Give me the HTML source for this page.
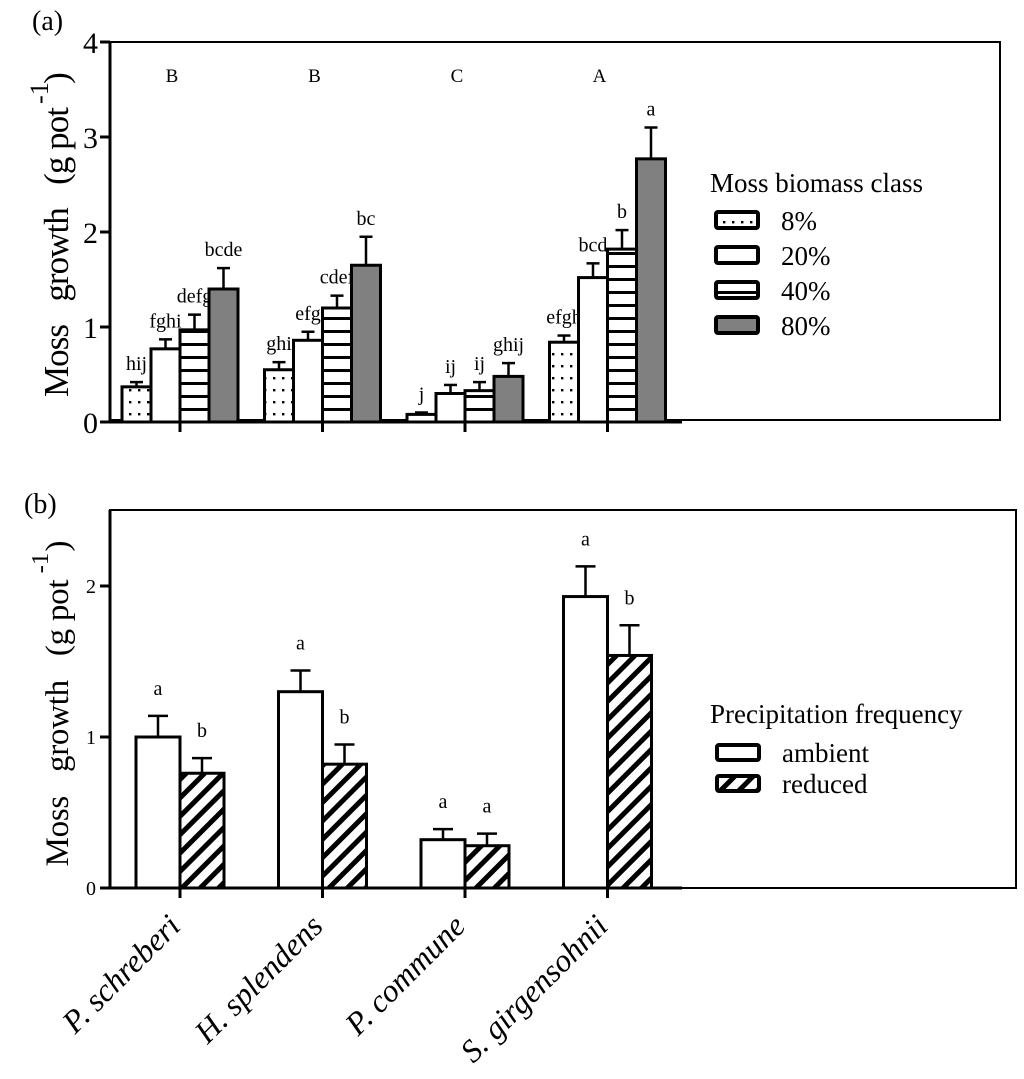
<!DOCTYPE html>
<html><head><meta charset="utf-8"><style>
body{margin:0;background:#fff}
svg{display:block;font-family:"Liberation Serif",serif}
</style></head><body>
<svg id="c" width="1024" height="1079" viewBox="0 0 1024 1079">
<defs>
<pattern id="dots" width="9" height="12" patternUnits="userSpaceOnUse"><rect width="9" height="12" fill="#fff"/><rect x="3" y="5" width="2.4" height="2.4" fill="#000"/></pattern>
<pattern id="hlines" width="10" height="13" patternUnits="userSpaceOnUse"><rect width="10" height="13" fill="#fff"/><rect y="5" width="10" height="3" fill="#000"/></pattern>
<pattern id="diag" width="13" height="13" patternUnits="userSpaceOnUse" patternTransform="rotate(45)"><rect width="13" height="13" fill="#fff"/><rect x="0" width="5" height="13" fill="#000"/></pattern>
</defs>
<g id="a"></g><g id="b"></g>
</svg>
<script>
const NS='http://www.w3.org/2000/svg';
const groupsA=['P. schreberi','H. splendens','P.  commune','S. girgensohnii'];
const classesA=['8%','20%','40%','80%'];
const valsA=[[0.37,0.77,0.97,1.40],[0.55,0.86,1.20,1.65],[0.08,0.30,0.33,0.48],[0.84,1.52,1.82,2.77]];
const errA=[[0.05,0.10,0.16,0.22],[0.08,0.09,0.13,0.30],[0.02,0.09,0.09,0.14],[0.07,0.15,0.20,0.33]];
const lettersA=[['hij','fghi','defg','bcde'],['ghi','efg','cdef','bc'],['j','ij','ij','ghij'],['efgh','bcd','b','a']];
const groupLettersA=['B','B','C','A'];
const ticksA=[0,1,2,3,4];
const seriesB=['ambient','reduced'];
const ambientB=[1.00,1.30,0.32,1.93];
const reducedB=[0.76,0.82,0.28,1.54];
const ambientErrB=[0.14,0.14,0.07,0.20];
const reducedErrB=[0.10,0.13,0.08,0.20];
const lettersB=[['a','b'],['a','b'],['a','a'],['a','b']];
const ticksB=[0,1,2];

function el(p,t,a,txt){const e=document.createElementNS(NS,t);for(const k in a)e.setAttribute(k,a[k]);if(txt!=null)e.textContent=txt;p.appendChild(e);return e;}
const fillsA=['url(#dots)','#fff','url(#hlines)','#808080'];
const fillsB=['#fff','url(#diag)'];
const catX=i=>180+i*142.5;

function yTitle(P,cx,cy,len,fs,supY,parY){
 let t=el(P,'text',{x:0,y:0,'font-size':fs,'text-anchor':'middle',textLength:len,lengthAdjust:'spacing',transform:`translate(68,${cy}) rotate(-90)`},'Moss\u00a0\u00a0 growth\u00a0\u00a0 (g pot');
 
 t=el(P,'text',{x:0,y:0,'font-size':fs*0.75,'text-anchor':'middle',transform:`translate(48,${supY}) rotate(-90)`},'-1');
 
 t=el(P,'text',{x:0,y:0,'font-size':fs,'text-anchor':'middle',transform:`translate(68,${parY}) rotate(-90)`},')');
 
}

// Panel A
const A=document.getElementById('a');
const yA=v=>422-v*95;
let t;
t=el(A,'text',{x:32,y:30,'font-size':28},'(a)');
t=el(A,'rect',{x:110,y:42,width:890,height:378,fill:'none',stroke:'#000','stroke-width':2});
valsA.forEach((g,gi)=>{
 g.forEach((v,si)=>{
  const x=catX(gi)-58+si*29;
  const e=errA[gi][si];
  t=el(A,'line',{x1:x+14.5,x2:x+14.5,y1:yA(v),y2:yA(v+e),stroke:'#000','stroke-width':2.5});
  t=el(A,'line',{x1:x+8,x2:x+21,y1:yA(v+e),y2:yA(v+e),stroke:'#000','stroke-width':2.5});
  t=el(A,'rect',{x:x,y:yA(v),width:29,height:yA(0)-yA(v),fill:fillsA[si],stroke:'#000','stroke-width':3});
  t=el(A,'text',{x:x+14.5,y:yA(v+e)-12,'font-size':20,'text-anchor':'middle'},lettersA[gi][si]);
 });
 t=el(A,'text',{x:catX(gi)-8,y:82,'font-size':19,'text-anchor':'middle'},groupLettersA[gi]);
 t=el(A,'line',{x1:catX(gi),x2:catX(gi),y1:422,y2:432,stroke:'#000','stroke-width':3});
});
t=el(A,'line',{x1:100,x2:682,y1:422,y2:422,stroke:'#000','stroke-width':3});
t=el(A,'line',{x1:110,x2:110,y1:42,y2:422,stroke:'#000','stroke-width':3});
ticksA.forEach(v=>{
 t=el(A,'line',{x1:100,x2:110,y1:yA(v),y2:yA(v),stroke:'#000','stroke-width':3});
 t=el(A,'text',{x:98,y:yA(v)+11,'font-size':30,'text-anchor':'end'},String(v));
});
yTitle(A,68,252,290,35,93,78);
t=el(A,'text',{x:710,y:192,'font-size':27},'Moss biomass class');
classesA.forEach((c,i)=>{
 const y=220+i*35;
 t=el(A,'rect',{x:716,y:y-8,width:42,height:16,rx:2,fill:fillsA[i],stroke:'#000','stroke-width':4});
 t=el(A,'text',{x:781,y:y+10,'font-size':27},c);
});

// Panel B
const B=document.getElementById('b');
const yB=v=>888-v*151;
t=el(B,'text',{x:24,y:513,'font-size':28},'(b)');
t=el(B,'rect',{x:110,y:510,width:906,height:378,fill:'none',stroke:'#000','stroke-width':2});
[ambientB,reducedB].forEach((s,si)=>{
 const errs=si?reducedErrB:ambientErrB;
 s.forEach((v,gi)=>{
  const x=catX(gi)-44+si*44;
  const e=errs[gi];
  t=el(B,'line',{x1:x+22,x2:x+22,y1:yB(v),y2:yB(v+e),stroke:'#000','stroke-width':2.5});
  t=el(B,'line',{x1:x+12,x2:x+32,y1:yB(v+e),y2:yB(v+e),stroke:'#000','stroke-width':2.5});
  t=el(B,'rect',{x:x,y:yB(v),width:44,height:yB(0)-yB(v),fill:fillsB[si],stroke:'#000','stroke-width':3});
  t=el(B,'text',{x:x+22,y:yB(v+e)-21,'font-size':20,'text-anchor':'middle'},lettersB[gi][si]);
 });
});
groupsA.forEach((g,gi)=>{
 t=el(B,'line',{x1:catX(gi),x2:catX(gi),y1:888,y2:898,stroke:'#000','stroke-width':3});
 t=el(B,'text',{x:0,y:0,'font-size':32,'font-style':'italic','text-anchor':'end','xml:space':'preserve',transform:`translate(${catX(gi)+2},${928}) rotate(-45)`},g);
});
t=el(B,'line',{x1:100,x2:682,y1:888,y2:888,stroke:'#000','stroke-width':3});
t=el(B,'line',{x1:110,x2:110,y1:510,y2:888,stroke:'#000','stroke-width':3});
ticksB.forEach(v=>{
 t=el(B,'line',{x1:100,x2:110,y1:yB(v),y2:yB(v),stroke:'#000','stroke-width':3});
 t=el(B,'text',{x:96,y:yB(v)+7,'font-size':20,'text-anchor':'end'},String(v));
});
yTitle(B,68,723,287,33,563,546);
t=el(B,'text',{x:710,y:723,'font-size':27},'Precipitation frequency');
seriesB.forEach((s,i)=>{
 const y=752+i*31;
 t=el(B,'rect',{x:717,y:y-7,width:42,height:15,rx:2,fill:fillsB[i],stroke:'#000','stroke-width':4});
 t=el(B,'text',{x:782,y:y+10,'font-size':27},s);
});
</script>
</body></html>
